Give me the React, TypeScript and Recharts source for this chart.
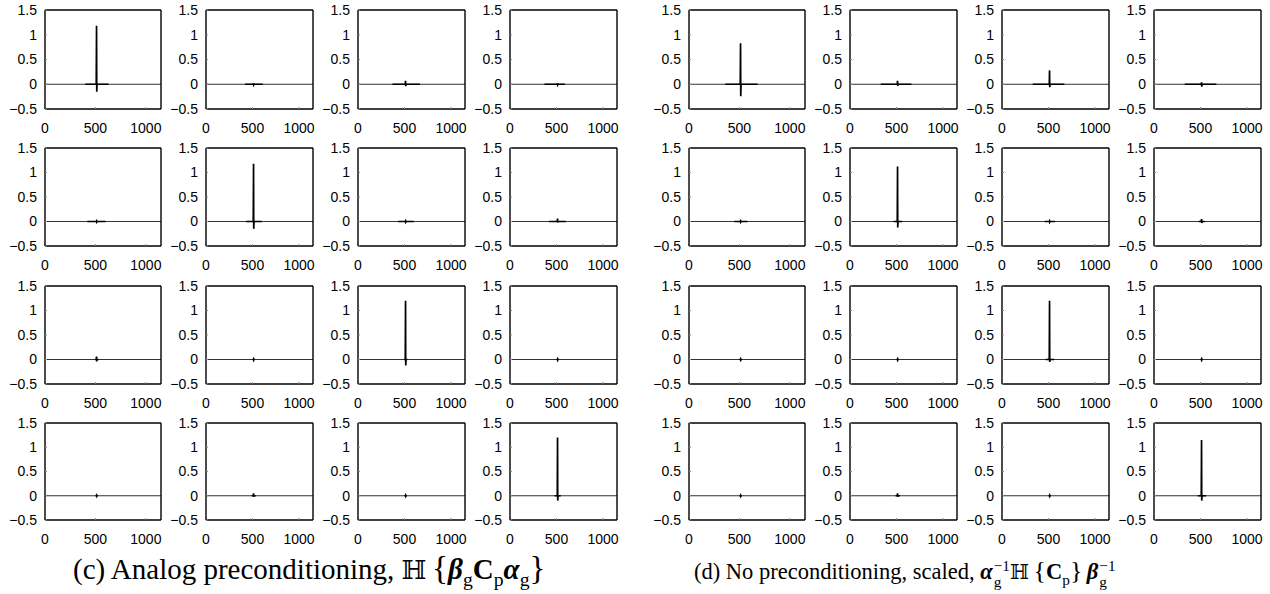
import React from "react";
import { LineChart, Line, XAxis, YAxis } from "recharts";

const X_MAX = 1150;
const X_TICKS = [0, 500, 1000];
const Y_TICKS = [-0.5, 0, 0.5, 1, 1.5];
// sample positions of the central spike
const SPIKE_X = [508, 511, 513, 516];

// (c) analog preconditioning, row-major 4x4
const C_PEAK = [1.18, 0.02, 0.07, 0.02, 0.01, 1.18, 0.01, 0.06, 0.06, 0.01, 1.2, 0.01, 0.01, 0.05, 0.01, 1.2];
const C_TROUGH = [-0.15, -0.01, -0.04, -0.01, -0.01, -0.15, -0.01, -0.02, -0.04, -0.01, -0.12, -0.01, -0.01, -0.02, -0.01, -0.1];
const C_BAND_FROM = [400, 420, 370, 370, 420, 430, 430, 420, 495, 500, 495, 500, 500, 490, 500, 480];
const C_BAND_TO = [630, 610, 665, 590, 600, 600, 600, 600, 530, 525, 530, 525, 525, 535, 525, 545];

// (d) no preconditioning, scaled
const D_PEAK = [0.83, 0.07, 0.28, 0.04, 0.01, 1.12, 0.01, 0.05, 0.01, 0.01, 1.2, 0.01, 0.01, 0.05, 0.01, 1.15];
const D_TROUGH = [-0.24, -0.03, -0.06, -0.05, -0.01, -0.12, -0.01, -0.03, -0.01, -0.01, -0.05, -0.01, -0.01, -0.02, -0.01, -0.1];
const D_BAND_FROM = [360, 330, 330, 330, 450, 470, 460, 480, 500, 500, 470, 500, 500, 490, 500, 470];
const D_BAND_TO = [680, 660, 670, 670, 580, 560, 570, 545, 525, 525, 560, 525, 525, 535, 525, 560];

const COL_LEFT = [45, 206, 358, 510];
const COL_WIDTH = [116, 107, 107, 107];
const ROW_TOP = [10, 148, 286, 423];
const ROW_HEIGHT = [99, 98, 98, 97];
const GROUP_SHIFT = 644;

const tickFont = { fontFamily: "'Liberation Sans', Arial, sans-serif", fontSize: 14, fill: "#000" };
const fmt = (v: number) => String(v).replace("-", "\u2212");

function Panel({ left, top, w, h, peak, trough, from, to }: any) {
  const base = [{ x: 0, y: 0 }, { x: X_MAX, y: 0 }];
  const core = [
    { x: from, y: 0 },
    { x: SPIKE_X[0], y: 0 },
    { x: SPIKE_X[1], y: peak },
    { x: SPIKE_X[2], y: trough },
    { x: SPIKE_X[3], y: 0 },
    { x: to, y: 0 },
  ];
  const axisLine = { stroke: "#000", strokeWidth: 1.4 };
  const tickLine = { stroke: "#888", strokeWidth: 1 };
  return (
    <div style={{ position: "absolute", left: left - 45, top: top - 10 }}>
      <LineChart width={w + 50} height={h + 38} margin={{ top: 0, right: 0, bottom: 0, left: 0 }}>
        <XAxis xAxisId="b" type="number" dataKey="x" domain={[0, X_MAX]} ticks={X_TICKS} allowDataOverflow
          orientation="bottom" height={28} tickSize={-2} tickMargin={16} tick={tickFont} stroke="#000"
          axisLine={axisLine} tickLine={tickLine} interval={0} />
        <XAxis xAxisId="t" type="number" dataKey="x" domain={[0, X_MAX]} ticks={X_TICKS} allowDataOverflow
          orientation="top" height={10} tickSize={-2} tick={false} stroke="#000"
          axisLine={axisLine} tickLine={tickLine} interval={0} />
        <YAxis yAxisId="l" type="number" domain={[-0.5, 1.5]} ticks={Y_TICKS} allowDataOverflow
          width={45} tickSize={-2} tickMargin={10} tick={tickFont} tickFormatter={fmt} stroke="#000"
          axisLine={axisLine} tickLine={tickLine} interval={0} />
        <YAxis yAxisId="r" type="number" domain={[-0.5, 1.5]} ticks={Y_TICKS} allowDataOverflow
          orientation="right" width={5} tickSize={-2} tick={false} stroke="#000"
          axisLine={axisLine} tickLine={tickLine} interval={0} />
        <Line xAxisId="b" yAxisId="l" data={base} dataKey="y" type="linear" dot={false}
          stroke="#333" strokeWidth={1} isAnimationActive={false} />
        <Line xAxisId="t" yAxisId="r" data={core} dataKey="y" type="linear" dot={false}
          stroke="#000" strokeWidth={1.7} isAnimationActive={false} />
      </LineChart>
    </div>
  );
}

function Group({ shift, peak, trough, from, to }: any) {
  const panels = [];
  for (let r = 0; r < 4; r++) {
    for (let c = 0; c < 4; c++) {
      const i = r * 4 + c;
      panels.push(
        <Panel key={i} left={COL_LEFT[c] + shift} top={ROW_TOP[r]} w={COL_WIDTH[c]} h={ROW_HEIGHT[r]}
          peak={peak[i]} trough={trough[i]} from={from[i]} to={to[i]} />
      );
    }
  }
  return <>{panels}</>;
}

const Sub = ({ children }: any) => (
  <span style={{ fontSize: "0.68em", verticalAlign: "-0.35em" }}>{children}</span>
);

const SupSub = ({ sup, sub }: any) => (
  <span style={{ display: "inline-flex", flexDirection: "column", fontSize: "0.68em", lineHeight: 1.05,
    verticalAlign: "0.55em", marginLeft: 1 }}>
    <span>{sup}</span>
    <span>{sub}</span>
  </span>
);

const bi = { fontWeight: "bold", fontStyle: "italic" } as const;
const b = { fontWeight: "bold" } as const;
const dbl = { fontFamily: "'DejaVu Serif', serif", fontSize: "0.9em" };
const brace = { fontSize: "1.15em" };

const captionStyle: React.CSSProperties = {
  position: "absolute",
  fontFamily: "'Liberation Serif', 'Times New Roman', serif",
  whiteSpace: "nowrap",
  color: "#000",
};

export default function App() {
  return (
    <div style={{ position: "absolute", left: 0, top: 0, width: 1270, height: 594, background: "#fff", overflow: "hidden" }}>
      <Group shift={0} peak={C_PEAK} trough={C_TROUGH} from={C_BAND_FROM} to={C_BAND_TO} />
      <Group shift={GROUP_SHIFT} peak={D_PEAK} trough={D_TROUGH} from={D_BAND_FROM} to={D_BAND_TO} />
      <div style={{ ...captionStyle, left: 73, top: 553, fontSize: 29, lineHeight: "29px" }}>
        (c) Analog preconditioning, <span style={dbl}>ℍ</span>{"\u2009"}<span style={brace}>{"{"}</span>
        <span style={bi}>β</span><Sub>g</Sub>
        <span style={b}>C</span><Sub>p</Sub>
        <span style={bi}>α</span><Sub>g</Sub>
        <span style={brace}>{"}"}</span>
      </div>
      <div style={{ ...captionStyle, left: 694, top: 558, fontSize: 22.5, lineHeight: "22.5px" }}>
        (d) No preconditioning, scaled, <span style={bi}>α</span><SupSub sup={"\u22121"} sub="g" />
        <span style={dbl}>ℍ</span>{"\u2009"}<span style={brace}>{"{"}</span>
        <span style={b}>C</span><Sub>p</Sub>
        <span style={brace}>{"}"}</span>{"\u2009"}
        <span style={bi}>β</span><SupSub sup={"\u22121"} sub="g" />
      </div>
    </div>
  );
}
